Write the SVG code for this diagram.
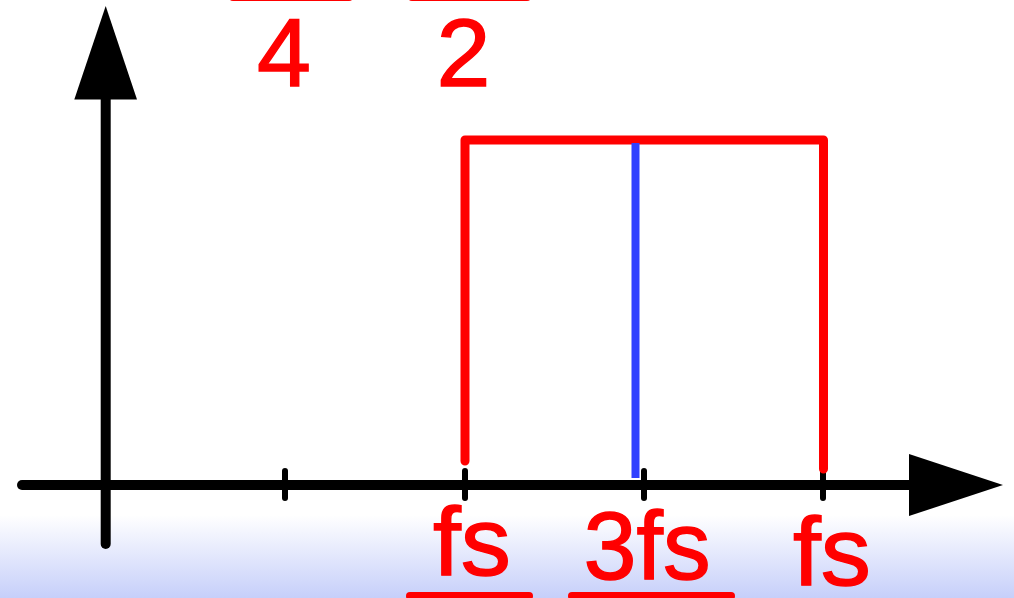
<svg xmlns="http://www.w3.org/2000/svg" width="1014" height="598" viewBox="0 0 1014 598">
  <defs>
    <linearGradient id="bg" x1="0" y1="0" x2="0" y2="1">
      <stop offset="0" stop-color="#ffffff"/>
      <stop offset="1" stop-color="#c6cffa"/>
    </linearGradient>
    <style>
      .axis { stroke: #000; stroke-width: 10; stroke-linecap: round; fill: none; }
      .tick { stroke: #000; stroke-width: 6; stroke-linecap: round; }
      .red { stroke: #ff0000; stroke-width: 9; stroke-linecap: round; stroke-linejoin: round; fill: none; }
      .bar { stroke: #ff0000; stroke-width: 8; stroke-linecap: round; }
      .lbl { font-family: "Liberation Sans", Arial, sans-serif; fill: #ff0000; stroke: #ff0000; stroke-width: 1.4; text-anchor: middle; }
    </style>
  </defs>
  <rect x="0" y="0" width="1014" height="598" fill="#ffffff"/>
  <rect x="0" y="515" width="1014" height="83" fill="url(#bg)"/>

  <g id="top-fractions">
    <line class="bar" x1="233" y1="-3" x2="349" y2="-3"/>
    <line class="bar" x1="412" y1="-3" x2="527" y2="-3"/>
    <text class="lbl" x="284" y="86" font-size="97">4</text>
    <text class="lbl" x="463.5" y="86" font-size="97">2</text>
  </g>

  <g id="axes">
    <line class="axis" x1="105.7" y1="95" x2="105.7" y2="544"/>
    <polygon points="105.7,6 137,99.5 74.3,99.5" fill="#000"/>
    <line class="axis" x1="22" y1="485" x2="912" y2="485"/>
    <polygon points="909,454 1003,485 909,516" fill="#000"/>
    <line class="tick" x1="285" y1="471" x2="285" y2="498"/>
    <line class="tick" x1="465" y1="471" x2="465" y2="498"/>
    <line class="tick" x1="644" y1="471" x2="644" y2="498"/>
    <line class="tick" x1="823" y1="471" x2="823" y2="498"/>
  </g>

  <g id="connectors">
    <path class="red" d="M465,461 V140 H823.5 V469"/>
    <line x1="635.5" y1="143" x2="635.5" y2="478" stroke="#3040ff" stroke-width="8"/>
  </g>

  <g id="bottom-labels">
    <text class="lbl" x="472" y="575" font-size="96" textLength="78" lengthAdjust="spacingAndGlyphs">fs</text>
    <text class="lbl" x="647" y="579" font-size="96" textLength="127" lengthAdjust="spacingAndGlyphs">3fs</text>
    <text class="lbl" x="832" y="585" font-size="96" textLength="78" lengthAdjust="spacingAndGlyphs">fs</text>
    <line class="bar" x1="410" y1="596" x2="529" y2="596"/>
    <line class="bar" x1="572" y1="596" x2="731" y2="596"/>
  </g>
</svg>
